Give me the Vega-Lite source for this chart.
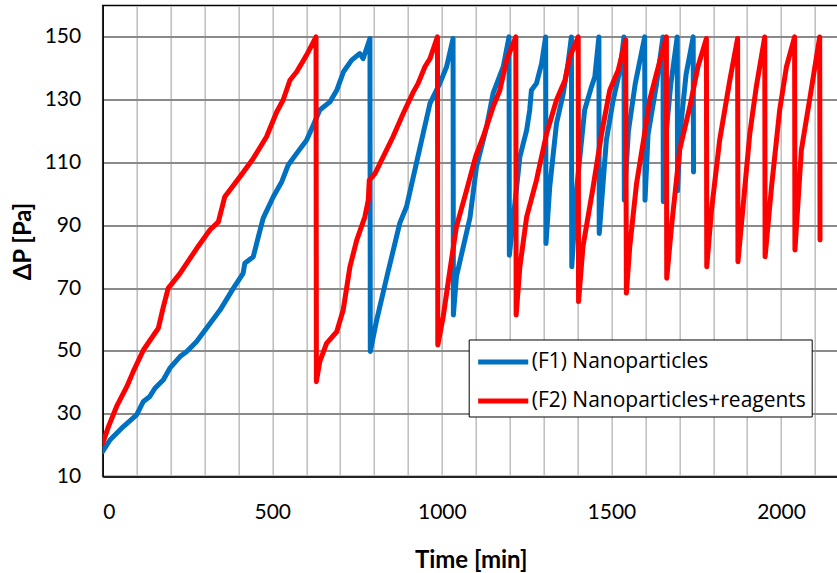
{
  "$schema": "https://vega.github.io/schema/vega-lite/v6.json",
  "autosize": {"type": "none"},
  "width": 736,
  "height": 471,
  "padding": {"left": 102.7, "top": 5.5, "right": 0, "bottom": 96.5},
  "background": "white",
  "config": {
    "view": {"stroke": "black", "strokeWidth": 1.5},
    "font": "Lato"
  },
  "datasets": {
    "f1": [
      {"t":0,"p":18},{"t":22,"p":21.7},{"t":61,"p":25.9},{"t":100,"p":29.6},{"t":120,"p":33.9},{"t":139,"p":35.5},{"t":154,"p":38.1},{"t":179,"p":40.8},{"t":198,"p":44.5},{"t":228,"p":48.2},{"t":248,"p":49.8},{"t":277,"p":53},{"t":306,"p":57.2},{"t":346,"p":63},{"t":385,"p":69.9},{"t":414,"p":74.7},{"t":419,"p":77.9},{"t":444,"p":80},{"t":459,"p":86.4},{"t":473,"p":92.2},{"t":503,"p":99.1},{"t":528,"p":103.9},{"t":547,"p":109.2},{"t":572,"p":112.9},{"t":601,"p":117.1},{"t":621,"p":121.9},{"t":640,"p":126.7},{"t":670,"p":129.3},{"t":690,"p":133},{"t":710,"p":138.9},{"t":734,"p":142.6},{"t":758,"p":144.7},{"t":768,"p":143.1},{"t":788,"p":149.5},
      {"t":789,"p":49.8},{"t":808,"p":59.9},{"t":838,"p":73.7},{"t":876,"p":90.7},{"t":896,"p":96},{"t":925,"p":109.8},{"t":945,"p":119.3},{"t":965,"p":128.8},{"t":994,"p":135.2},{"t":1014,"p":140.5},{"t":1033,"p":149.5},
      {"t":1034,"p":61.4},{"t":1043,"p":73.7},{"t":1083,"p":92.5},{"t":1102,"p":108.6},{"t":1132,"p":121.4},{"t":1151,"p":132},{"t":1181,"p":140.5},{"t":1198,"p":150},
      {"t":1199,"p":80.5},{"t":1230,"p":111.8},{"t":1250,"p":120.3},{"t":1259,"p":126.7},{"t":1264,"p":133},{"t":1279,"p":135.2},{"t":1294,"p":141.5},{"t":1306,"p":150},
      {"t":1307,"p":84.2},{"t":1318,"p":102.2},{"t":1338,"p":122.4},{"t":1358,"p":132},{"t":1372,"p":141.5},{"t":1382,"p":150},
      {"t":1383,"p":76.8},{"t":1397,"p":101.2},{"t":1421,"p":126.7},{"t":1441,"p":134.1},{"t":1451,"p":137.3},{"t":1463,"p":150},
      {"t":1464,"p":87.4},{"t":1485,"p":117.1},{"t":1505,"p":129.8},{"t":1525,"p":139.4},{"t":1537,"p":150},
      {"t":1538,"p":98},{"t":1550,"p":120},{"t":1570,"p":135},{"t":1598,"p":150},
      {"t":1599,"p":98},{"t":1608,"p":119},{"t":1633,"p":135},{"t":1652,"p":150},
      {"t":1653,"p":97.5},{"t":1660,"p":118},{"t":1675,"p":135},{"t":1694,"p":150},
      {"t":1695,"p":101},{"t":1703,"p":120},{"t":1720,"p":138},{"t":1741,"p":150},
      {"t":1742,"p":107}
    ],
    "f2": [
      {"t":0,"p":20.6},{"t":17,"p":25.9},{"t":41,"p":32.3},{"t":71,"p":38.6},{"t":90,"p":43.4},{"t":120,"p":50.3},{"t":164,"p":57.2},{"t":179,"p":64.1},{"t":193,"p":69.9},{"t":228,"p":74.7},{"t":277,"p":82.6},{"t":316,"p":88.5},{"t":341,"p":91.1},{"t":360,"p":99.1},{"t":405,"p":105.5},{"t":444,"p":111.3},{"t":483,"p":118.2},{"t":513,"p":126.1},{"t":532,"p":129.9},{"t":552,"p":136.2},{"t":572,"p":138.9},{"t":601,"p":144.2},{"t":629,"p":150},
      {"t":630,"p":40.2},{"t":640,"p":46.6},{"t":660,"p":52.4},{"t":690,"p":56.1},{"t":709,"p":63},{"t":729,"p":76.8},{"t":749,"p":85.3},{"t":773,"p":92.7},{"t":783,"p":98},{"t":786,"p":104.4},{"t":803,"p":106.5},{"t":827,"p":111.8},{"t":856,"p":118.2},{"t":886,"p":125.6},{"t":916,"p":132.5},{"t":930,"p":135.2},{"t":950,"p":140.5},{"t":965,"p":143.1},{"t":987,"p":150},
      {"t":988,"p":51.9},{"t":1004,"p":60.9},{"t":1024,"p":75.9},{"t":1043,"p":89.6},{"t":1073,"p":101.2},{"t":1100,"p":112},{"t":1122,"p":118.2},{"t":1151,"p":127.7},{"t":1171,"p":133},{"t":1191,"p":142.6},{"t":1218,"p":150},
      {"t":1219,"p":61.4},{"t":1230,"p":76.8},{"t":1250,"p":92.7},{"t":1279,"p":104.4},{"t":1309,"p":119.3},{"t":1338,"p":129.9},{"t":1363,"p":136.2},{"t":1377,"p":143.6},{"t":1402,"p":150},
      {"t":1403,"p":65.7},{"t":1416,"p":83.2},{"t":1446,"p":102.2},{"t":1471,"p":119.3},{"t":1495,"p":133},{"t":1520,"p":139.4},{"t":1542,"p":149},
      {"t":1544,"p":68.4},{"t":1554,"p":83.2},{"t":1574,"p":103.3},{"t":1593,"p":116},{"t":1613,"p":130},{"t":1633,"p":138.4},{"t":1662,"p":150},
      {"t":1663,"p":73.1},{"t":1677,"p":89.5},{"t":1701,"p":114},{"t":1731,"p":127.7},{"t":1755,"p":140.5},{"t":1780,"p":149.5},
      {"t":1781,"p":76.8},{"t":1795,"p":94.9},{"t":1819,"p":117.1},{"t":1849,"p":136.2},{"t":1872,"p":149.5},
      {"t":1873,"p":78.4},{"t":1888,"p":95.9},{"t":1908,"p":119.3},{"t":1927,"p":134.1},{"t":1952,"p":150},
      {"t":1953,"p":80},{"t":1972,"p":102.3},{"t":1996,"p":126.7},{"t":2016,"p":140.5},{"t":2040,"p":150},
      {"t":2041,"p":82.1},{"t":2060,"p":114},{"t":2084,"p":129.8},{"t":2114,"p":150},
      {"t":2115,"p":85.3}
    ]
  },
  "layer": [
    {
      "data": {"name": "f1"},
      "transform": [{"calculate": "'(F1) Nanoparticles'", "as": "series"}],
      "mark": {"type": "line", "strokeWidth": 5, "strokeJoin": "round", "strokeCap": "round", "clip": true},
      "encoding": {
        "x": {"field": "t", "type": "quantitative"},
        "y": {"field": "p", "type": "quantitative"},
        "color": {"field": "series", "type": "nominal"}
      }
    },
    {
      "data": {"name": "f2"},
      "transform": [{"calculate": "'(F2) Nanoparticles+reagents'", "as": "series"}],
      "mark": {"type": "line", "strokeWidth": 5, "strokeJoin": "round", "strokeCap": "round", "clip": true},
      "encoding": {
        "x": {
          "field": "t", "type": "quantitative",
          "scale": {"domain": [0, 2170], "nice": false, "zero": false},
          "axis": {
            "title": "Time [min]",
            "values": [0,100,200,300,400,500,600,700,800,900,1000,1100,1200,1300,1400,1500,1600,1700,1800,1900,2000,2100],
            "tickCount": 40,
            "labelExpr": "datum.value % 500 === 0 ? datum.label : ''",
            "labelOverlap": false,
            "format": "d",
            "grid": true, "gridColor": "#bdbdbd", "gridWidth": 1.5,
            "ticks": false,
            "domainColor": "black", "domainWidth": 1.5,
            "labelFont": "Lato", "labelFontSize": 21, "labelColor": "black", "labelPadding": 25,
            "titleFont": "Lato", "titleFontSize": 24, "titleFontWeight": "bold", "titleColor": "black", "titlePadding": 26
          }
        },
        "y": {
          "field": "p", "type": "quantitative",
          "scale": {"domain": [10, 160], "nice": false, "zero": false},
          "axis": {
            "title": "ΔP [Pa]",
            "values": [10,30,50,70,90,110,130,150],
            "tickCount": 20,
            "grid": true, "gridColor": "#8a8a8a", "gridWidth": 1.8,
            "ticks": false,
            "domainColor": "black", "domainWidth": 1.5,
            "labelFont": "Lato", "labelFontSize": 21, "labelColor": "black", "labelPadding": 22,
            "titleFont": "Lato", "titleFontSize": 24, "titleFontWeight": "bold", "titleColor": "black", "titlePadding": 9
          }
        },
        "color": {
          "field": "series", "type": "nominal",
          "scale": {"domain": ["(F1) Nanoparticles", "(F2) Nanoparticles+reagents"], "range": ["#0070C0", "#FF0000"]},
          "legend": {
            "title": null,
            "orient": "none",
            "legendX": 366,
            "legendY": 334,
            "symbolType": "M-1.67,0H1.67",
            "symbolStrokeWidth": 5,
            "symbolSize": 900,
            "symbolOffset": 12,
            "labelFont": "Open Sans",
            "labelFontSize": 21,
            "labelColor": "black",
            "labelLimit": 400,
            "strokeColor": "black",
            "fillColor": "white",
            "padding": 5,
            "rowPadding": 11,
            "labelOffset": 11
          }
        }
      }
    }
  ]
}
